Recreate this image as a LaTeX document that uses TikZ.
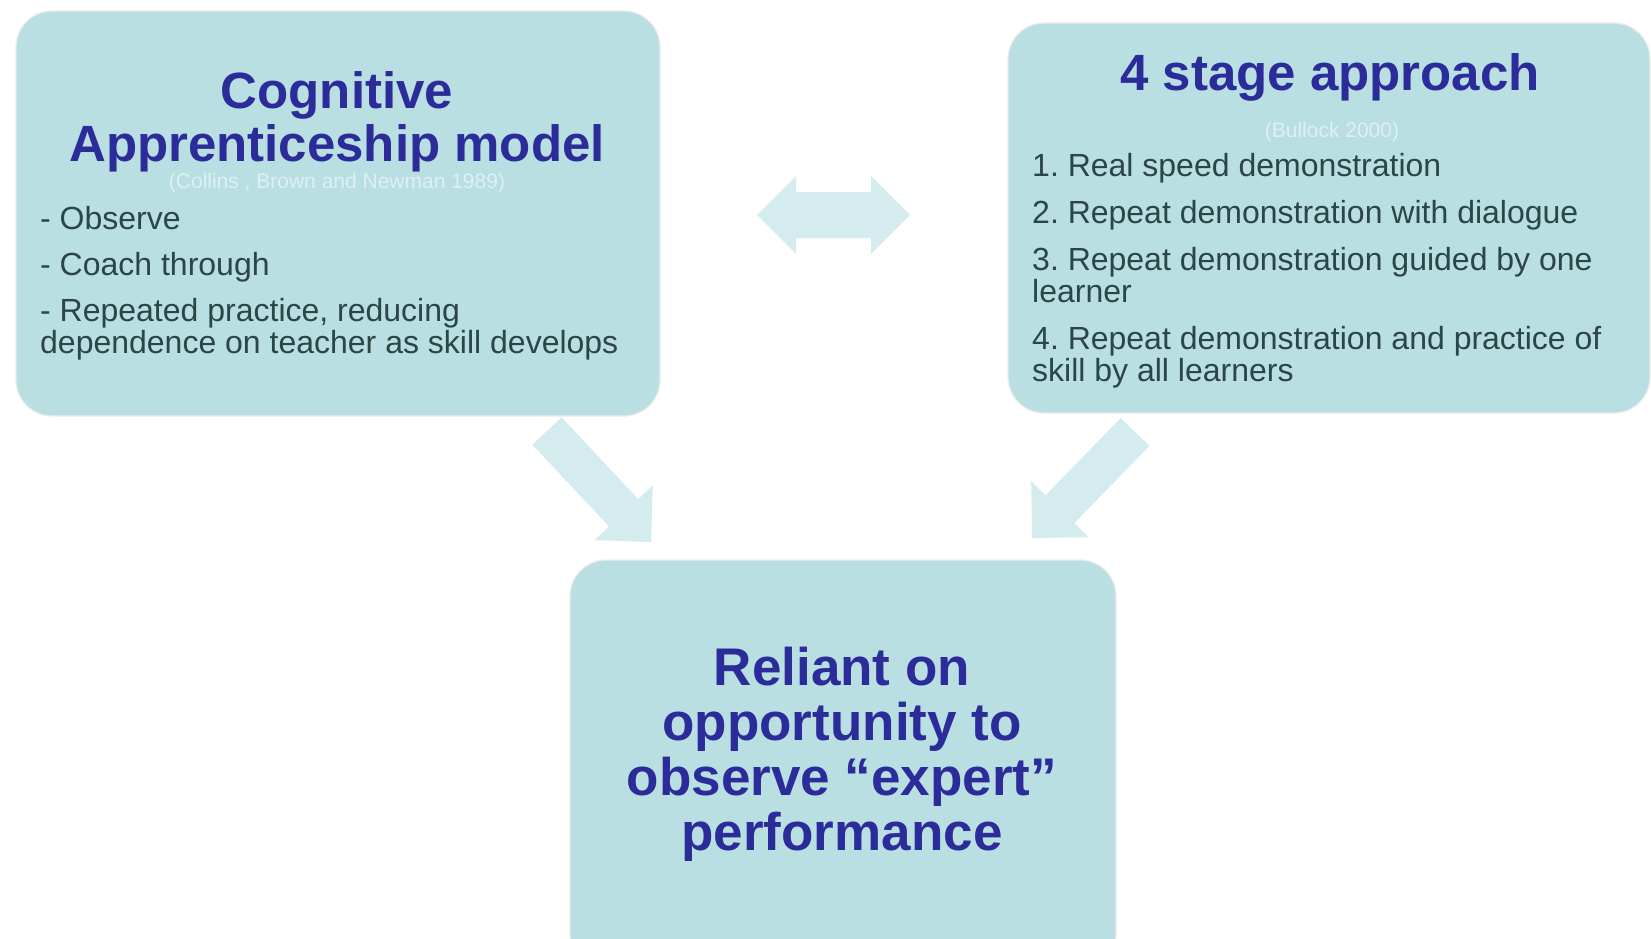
\documentclass[tikz,border=0pt]{standalone}
\usepackage{fontspec}
\setmainfont{Liberation Sans}
\usetikzlibrary{calc}
\frenchspacing
\definecolor{boxfill}{HTML}{BADFE3}
\definecolor{arrowfill}{HTML}{D4ECEE}
\definecolor{titleblue}{HTML}{2B2C99}
\definecolor{bodytext}{HTML}{2C4646}
\definecolor{citetext}{HTML}{DDF0F2}
\tikzstyle{panel}=[rectangle,rounded corners=36pt,fill=boxfill,draw=white!85!gray,line width=1.2pt]
\tikzstyle{heading}=[text=titleblue,font=\bfseries\fontsize{51}{53}\selectfont,align=center,anchor=base,inner sep=0pt]
\tikzstyle{cite}=[text=citetext,font=\fontsize{21}{23}\selectfont,anchor=base,inner sep=0pt]
\tikzstyle{points}=[text=bodytext,font=\fontsize{32}{32}\selectfont,align=left,anchor=base west,inner sep=0pt]
\tikzstyle{fatarrow}=[fill=arrowfill]
% block arrow from tail #1 to tip #2
\newcommand{\blockarrow}[2]{%
  \coordinate (h) at ($(#2)!40pt!(#1)$);
  \path[fatarrow] ($(#1)!20pt!90:(#2)$) -- ($(h)!20pt!-90:(#1)$) -- ($(h)!40pt!-90:(#1)$) -- (#2)
    -- ($(h)!40pt!90:(#1)$) -- ($(h)!20pt!90:(#1)$) -- ($(#1)!20pt!-90:(#2)$) -- cycle;}
% block arrow with heads at #1 and #2
\newcommand{\twowayarrow}[2]{%
  \coordinate (ha) at ($(#1)!39pt!(#2)$);
  \coordinate (hb) at ($(#2)!39pt!(#1)$);
  \path[fatarrow] (#1) -- ($(ha)!39pt!90:(#2)$) -- ($(ha)!23pt!90:(#2)$) -- ($(hb)!23pt!-90:(#1)$)
    -- ($(hb)!39pt!-90:(#1)$) -- (#2) -- ($(hb)!39pt!90:(#1)$) -- ($(hb)!23pt!90:(#1)$)
    -- ($(ha)!23pt!-90:(#2)$) -- ($(ha)!39pt!-90:(#2)$) -- cycle;}

\begin{document}
\begin{tikzpicture}[x=1pt,y=-1pt]
\useasboundingbox (0,0) rectangle (1651,939);
\clip (0,0) rectangle (1651,939);
\fill[white] (0,0) rectangle (1651,939);
% boxes
\node[panel,minimum width=644pt,minimum height=405pt] (cam) at (338,213.5) {};
\node[panel,minimum width=642pt,minimum height=390pt] (four) at (1329,218) {};
\node[panel,minimum width=546pt,minimum height=410pt] (rel) at (843,765) {};
% left box (anchors sit on the last line)
\node[heading] (camtitle) at (337,161) {Cognitive\\Apprenticeship model};
\node[cite] (camcite) at (337,188) {(Collins , Brown and Newman 1989)};
\node[points] (camlist) at (40,353) {- Observe\\[14pt]
- Coach through\\[14pt]
- Repeated practice, reducing\\
dependence on teacher as skill develops};
% right box
\node[heading] (fourtitle) at (1330,91) {4 stage approach};
\node[cite] (fourcite) at (1332,138) {(Bullock 2000)};
\node[points] (fourlist) at (1032,381) {1. Real speed demonstration\\[15pt]
2. Repeat demonstration with dialogue\\[15pt]
3. Repeat demonstration guided by one\\
learner\\[15pt]
4. Repeat demonstration and practice of\\
skill by all learners};
% bottom box
\node[heading,font=\bfseries\fontsize{53}{55}\selectfont] (reltitle) at (842,850) {Reliant on\\opportunity to\\observe “expert”\\performance};
% arrows
\coordinate (dl) at (757,215);
\coordinate (dr) at (910,215);
\twowayarrow{dl}{dr}
\coordinate (lt) at (547,431);
\coordinate (lh) at (651,542);
\blockarrow{lt}{lh}
\coordinate (rt) at (1135,432);
\coordinate (rh) at (1032,538);
\blockarrow{rt}{rh}
\end{tikzpicture}
\end{document}
